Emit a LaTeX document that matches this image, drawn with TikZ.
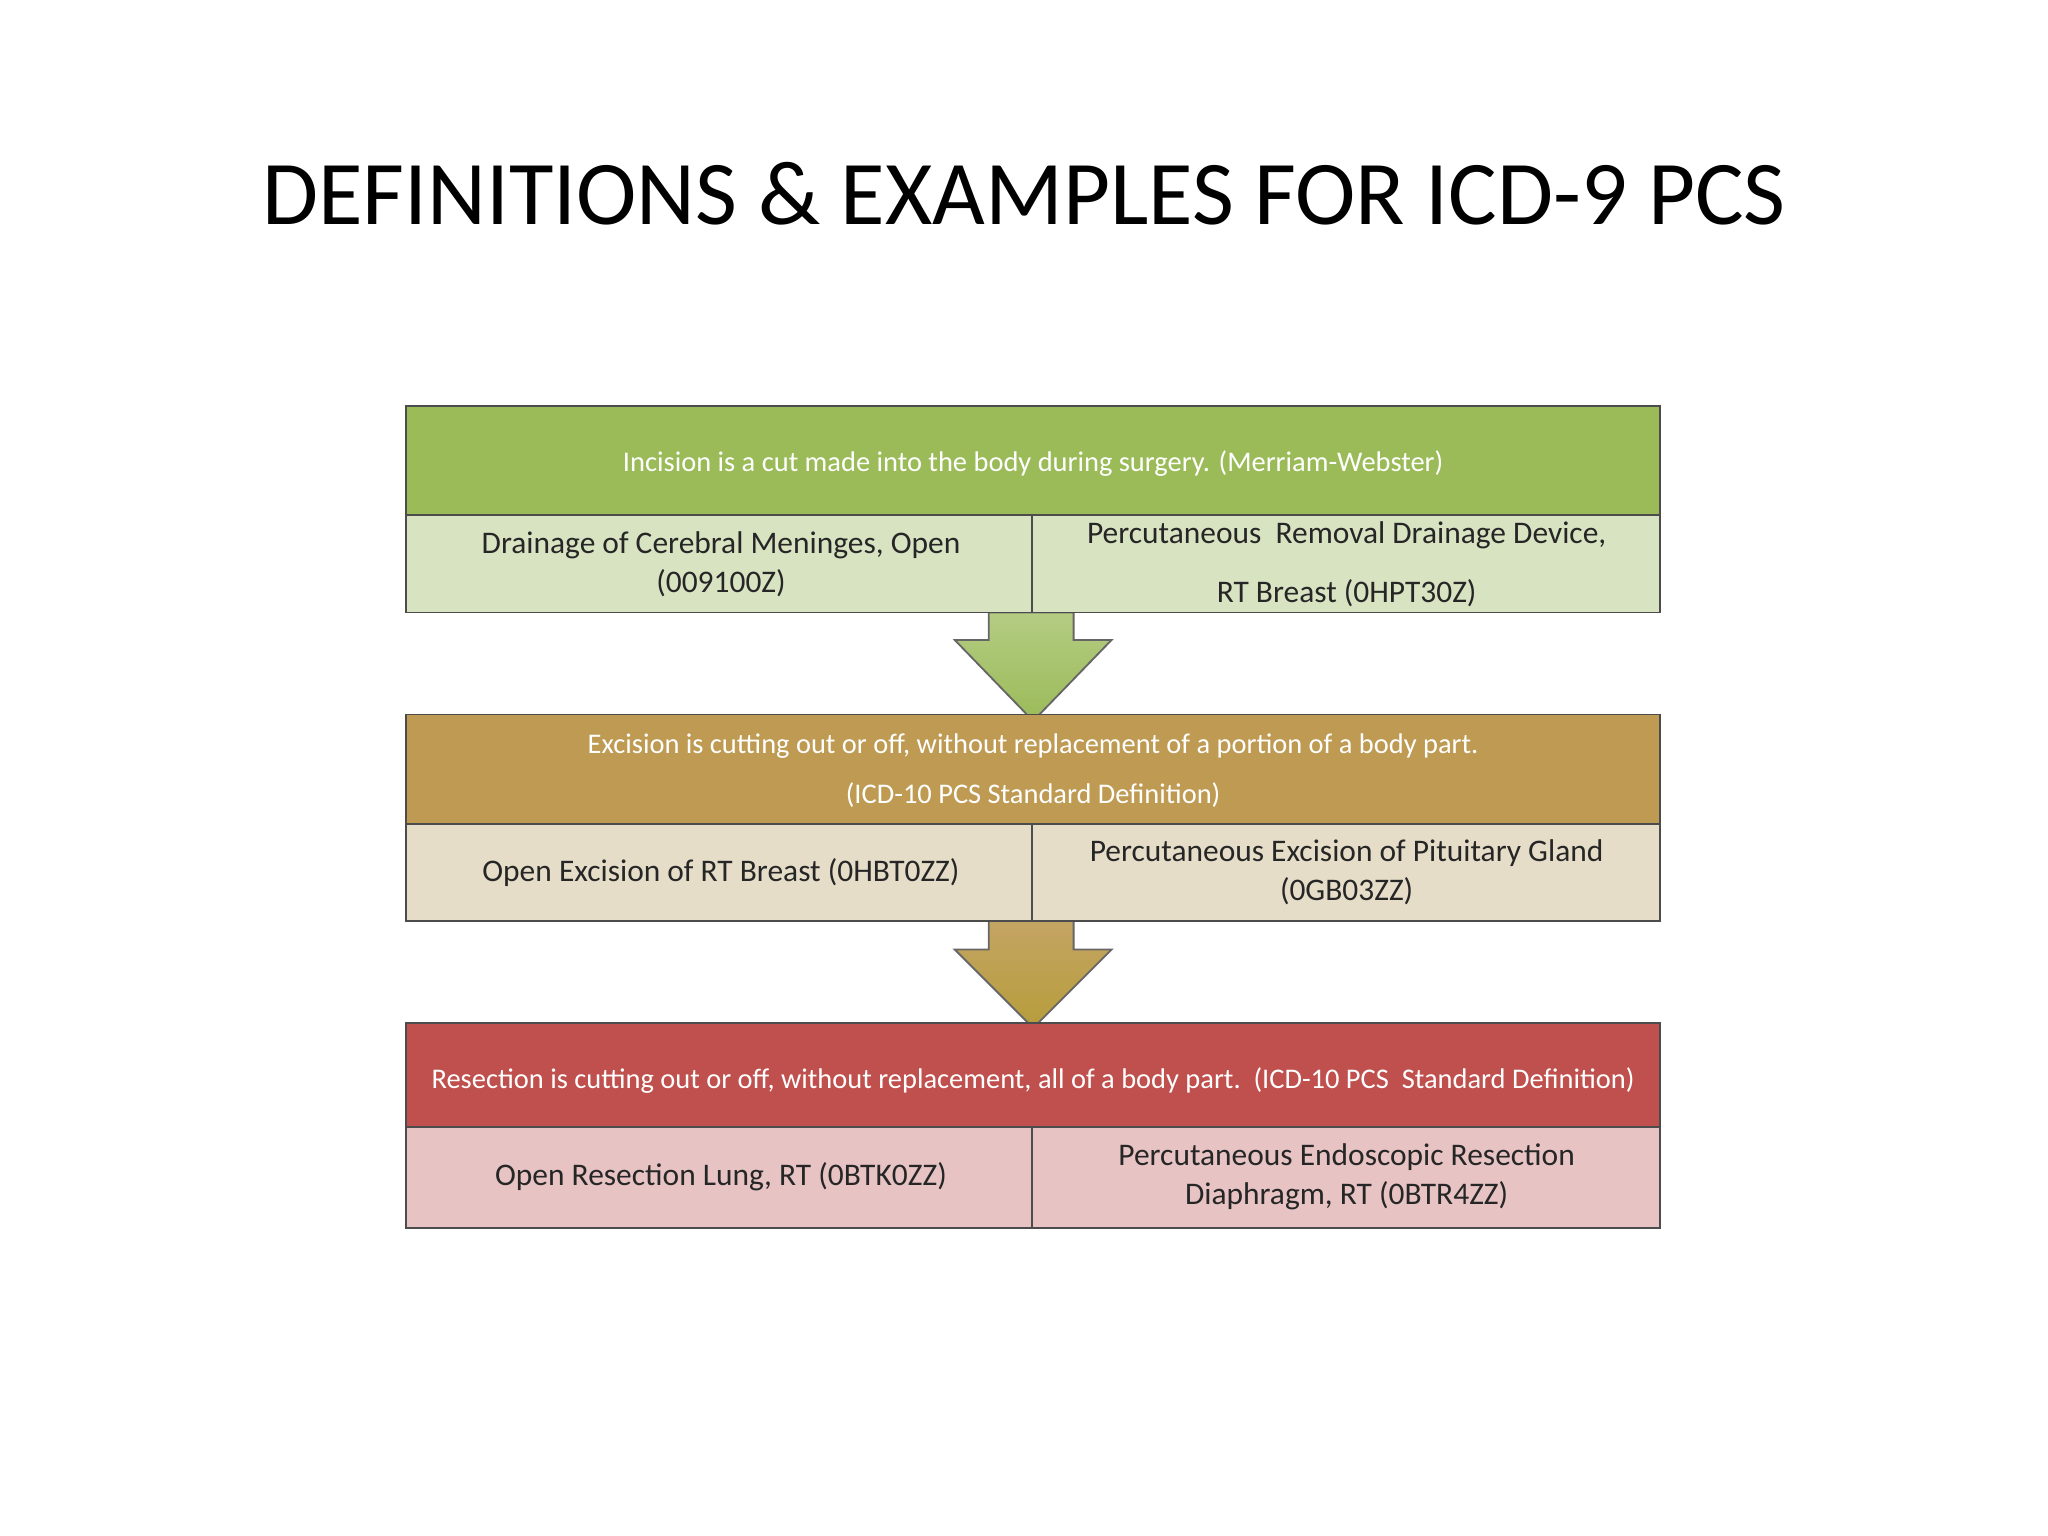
\documentclass[tikz,border=0pt]{standalone}
\usepackage{fontspec}
\setmainfont{Carlito}
\begin{document}
\begin{tikzpicture}[x=0.02cm,y=-0.02cm,
 hdr/.style={draw=black!70,line width=0.8pt},
 sub/.style={draw=black!70,line width=0.8pt},
 ht/.style={text=white,font=\fontsize{12.4}{22}\selectfont,align=center},
 st/.style={text=black!85,font=\fontsize{13.7}{17}\selectfont,align=center},
 arr/.style={draw=black!60,line width=0.8pt}]
\definecolor{gA}{HTML}{9BBB59}\definecolor{gB}{HTML}{D8E3C2}
\definecolor{oA}{HTML}{BE9A52}\definecolor{oB}{HTML}{E6DDC9}
\definecolor{rA}{HTML}{C0504D}\definecolor{rB}{HTML}{E7C3C3}
\useasboundingbox (0,0) rectangle (1568,1176);
\node[font=\fontsize{39.7}{46}\selectfont] (title) at (784,148) {DEFINITIONS \& EXAMPLES FOR ICD-9 PCS};
% arrows (behind)
\draw[arr,top color=gA!75!white,bottom color=gA] (757,469)--(757,490)--(731,490)--(791,552)--(851,490)--(822,490)--(822,469)--cycle;
\draw[arr,top color=oA!90,bottom color=oA!80!yellow!90!black] (757,705)--(757,727)--(731,727)--(791,787)--(851,727)--(822,727)--(822,705)--cycle;
% box 1
\draw[hdr,fill=gA] (311,311) rectangle (1271,394);
\draw[sub,fill=gB] (311,394) rectangle (790,469);
\draw[sub,fill=gB] (790,394) rectangle (1271,469);
\node[ht] (h1) at (791,355) {Incision is a cut made into the body during surgery. (Merriam-Webster)};
\node[st] (a1) at (552,432) {Drainage of Cerebral Meninges, Open\\(009100Z)};
\node[st,font=\fontsize{13.7}{26}\selectfont] (b1) at (1031,432) {Percutaneous\ \ Removal Drainage Device,\\RT Breast (0HPT30Z)};
% box 2
\draw[hdr,fill=oA] (311,547) rectangle (1271,631);
\draw[sub,fill=oB] (311,631) rectangle (790,705);
\draw[sub,fill=oB] (790,631) rectangle (1271,705);
\node[ht] (h2) at (791,590) {Excision is cutting out or off, without replacement of a portion of a body part.\\(ICD-10 PCS Standard Definition)};
\node[st] (a2) at (552,668) {Open Excision of RT Breast (0HBT0ZZ)};
\node[st] (b2) at (1031,668) {Percutaneous Excision of Pituitary Gland\\(0GB03ZZ)};
% box 3
\draw[hdr,fill=rA] (311,783) rectangle (1271,863);
\draw[sub,fill=rB] (311,863) rectangle (790,940);
\draw[sub,fill=rB] (790,863) rectangle (1271,940);
\node[ht] (h3) at (791,827) {Resection is cutting out or off, without replacement, all of a body part.\ \ (ICD-10 PCS\ \ Standard Definition)};
\node[st] (a3) at (552,901) {Open Resection Lung, RT (0BTK0ZZ)};
\node[st] (b3) at (1031,901) {Percutaneous Endoscopic Resection\\Diaphragm, RT (0BTR4ZZ)};
\end{tikzpicture}
\end{document}
